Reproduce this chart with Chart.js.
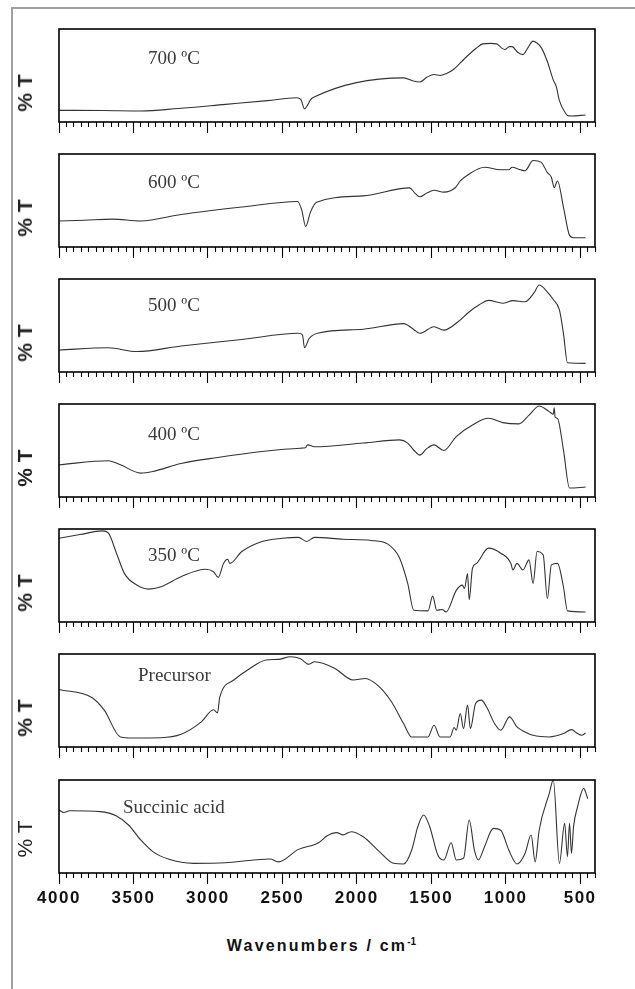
<!DOCTYPE html>
<html>
<head>
<meta charset="utf-8">
<script src="https://cdn.jsdelivr.net/npm/chart.js@4.4.1/dist/chart.umd.min.js"></script>
<style>
  html, body { margin: 0; padding: 0; background: #fff; }
  #page { position: relative; width: 635px; height: 989px; overflow: hidden; }
  #page canvas { position: absolute; left: 0; }
  .edge { position: absolute; background: #a0a0a0; }
  .ylab {
    position: absolute; left: 25px;
    font: bold 21px 'Liberation Sans', Arial, sans-serif; color: #222;
    transform: translate(-50%, -50%) rotate(-90deg); white-space: nowrap;
  }
  .tag {
    position: absolute; line-height: 19px;
    font: 19px 'Liberation Serif', 'Times New Roman', serif; color: #3a3a3a; white-space: nowrap;
  }
  #xtitle {
    position: absolute; left: 0; width: 635px; top: 936px; text-align: center;
    font: bold 16px 'Liberation Sans', Arial, sans-serif; color: #111; letter-spacing: 2.2px;
    padding-left: 8px; box-sizing: border-box;
  }
  #xtitle sup { font-size: 10px; letter-spacing: 0; }
</style>
</head>
<body>
<div id="page">
  <div class="edge" style="left:11px; top:7px; width:2px; height:982px;"></div>
  <div class="edge" style="left:11px; top:7px; width:624px; height:2px;"></div>
  <div id="xtitle">Wavenumbers / cm<sup>-1</sup></div>
</div>
<script>
// panel labels
const panelNames = ['700 ºC', '600 ºC', '500 ºC', '400 ºC', '350 ºC', 'Precursor', 'Succinic acid'];

// wavenumber axis (cm-1)
const xMin = 400;
const xMax = 4000;
const majorStep = 500;
const minorStep = 50;

// spectra: wavenumbers and %T (0 = panel bottom, 100 = panel top)
const wn700 = [4000, 3700, 3450, 3200, 2881, 2600, 2405, 2375, 2351, 2335, 2310, 2290, 1685, 1620, 1576, 1530, 1481, 1440, 1400, 1346, 1277, 1200, 1155, 1100, 1060, 1030, 1006, 975, 957, 920, 884, 850, 816, 790, 761, 720, 680, 660, 639, 600, 585, 560, 463];
const t700 = [12.5, 12.3, 11.8, 14.5, 19, 23, 26, 24, 14, 17, 24, 26.5, 47.5, 44, 43, 48, 51, 50, 52, 57, 68, 79, 84, 84.5, 84, 80, 78, 81, 81, 75, 72.5, 80, 87, 85, 80, 65, 45, 38, 23, 10, 7, 6.5, 7.5];

const wn600 = [4000, 3830, 3641, 3451, 3180, 2772, 2397, 2370, 2343, 2311, 2270, 1957, 1645, 1610, 1577, 1530, 1481, 1415, 1337, 1305, 1250, 1142, 1035, 980, 957, 900, 870, 816, 761, 720, 693, 674, 652, 612, 571, 544, 463];
const t600 = [27.9, 28.8, 30, 28, 35, 43, 49, 40, 22, 37.5, 48, 55, 63.6, 58, 54, 58, 61, 59, 64, 71, 78, 85.7, 83, 83, 85.7, 83, 82, 93, 91, 80, 75, 64, 71, 43, 12.5, 10, 10];

const wn500 = [4000, 3669, 3478, 3180, 2772, 2392, 2365, 2351, 2320, 2256, 1957, 1685, 1620, 1577, 1481, 1415, 1320, 1250, 1180, 1115, 1020, 952, 870, 810, 775, 720, 680, 639, 612, 585, 463];
const t500 = [23.7, 26, 22, 28, 35, 41.6, 40, 26, 36, 42, 46, 52, 46, 41.6, 48.7, 45, 54, 64, 72, 77, 74, 76.7, 75.6, 85, 93.5, 86, 78, 66.7, 41.6, 10, 9.3];

const wn400 = [4000, 3669, 3587, 3451, 3370, 3180, 2935, 2636, 2378, 2345, 2330, 2283, 1957, 1712, 1658, 1615, 1577, 1530, 1481, 1415, 1332, 1223, 1115, 1020, 911, 843, 775, 707, 680, 674, 668, 652, 612, 571, 463];
const t400 = [34.6, 39, 34.6, 25.7, 27.5, 36, 42.5, 49, 52.5, 53, 56, 54, 58, 61.4, 58, 50, 45, 52, 56, 50, 65, 77.5, 84.6, 80, 78.6, 88, 97.9, 91.8, 89, 96, 86, 84.6, 50.7, 9.6, 10.7];

const wn350 = [4000, 3859, 3709, 3669, 3614, 3560, 3478, 3397, 3315, 3180, 3017, 2962, 2930, 2895, 2867, 2853, 2772, 2636, 2500, 2392, 2337, 2283, 2093, 1902, 1794, 1712, 1658, 1617, 1522, 1490, 1463, 1427, 1400, 1332, 1291, 1277, 1256, 1245, 1223, 1196, 1115, 1033, 965, 952, 924, 884, 843, 816, 789, 748, 720, 693, 652, 612, 585, 463];
const t350 = [90, 94, 98, 95.7, 74, 52, 39.7, 35.4, 38, 48.7, 56.7, 54, 48, 63, 67.5, 63, 75.8, 86.6, 90, 91, 86.6, 91, 89, 87.7, 84, 68.6, 41.5, 12.6, 12, 27.8, 12.6, 13.4, 10.8, 34, 39.7, 36, 52, 24, 57.8, 63, 79.4, 74, 63, 56, 63, 56, 66.8, 41.5, 75.8, 72, 25.3, 61.4, 63, 37.9, 12, 10.8];

const wnPre = [4000, 3777, 3696, 3587, 3505, 3315, 3180, 3044, 2962, 2935, 2921, 2826, 2718, 2609, 2527, 2446, 2378, 2324, 2283, 2147, 2025, 1943, 1848, 1767, 1685, 1631, 1522, 1481, 1441, 1373, 1346, 1332, 1305, 1283, 1256, 1237, 1202, 1164, 1128, 1074, 1033, 974, 924, 870, 816, 707, 612, 558, 517, 490, 463];
const tPre = [61.9, 53, 39.6, 10.8, 9.7, 10, 13.7, 27, 40, 36.7, 53, 72, 84.5, 93.5, 94.2, 97, 95, 89, 91.7, 84.5, 72, 73.7, 64.7, 48.6, 25, 10.8, 10.8, 23.4, 10.8, 10.8, 21, 18, 36, 19.8, 45, 19.8, 46.8, 50.4, 43, 25, 18, 32.4, 21.6, 16.2, 12.6, 10.8, 14.4, 18.7, 14.4, 12.6, 15];

const wnSuc = [4000, 3967, 3927, 3723, 3614, 3533, 3451, 3370, 3261, 3098, 2881, 2690, 2582, 2527, 2392, 2256, 2201, 2134, 2093, 2038, 1957, 1848, 1753, 1685, 1631, 1590, 1551, 1510, 1456, 1415, 1366, 1332, 1283, 1245, 1210, 1183, 1142, 1083, 1033, 979, 924, 870, 829, 802, 775, 707, 680, 639, 604, 585, 571, 558, 544, 517, 476, 449];
const tSuc = [67.7, 65, 67, 66, 61.3, 51.6, 35.5, 23, 14.7, 10.4, 11, 14, 15, 12, 25.4, 32.6, 39.8, 43.4, 41, 44.4, 39, 23, 10.4, 9.7, 24.7, 49.8, 62.4, 49.8, 19.4, 14, 32.6, 14, 15.8, 57, 24.7, 14, 28.3, 48, 46, 24.7, 9.7, 21, 40.9, 12, 46, 85.7, 100, 10.4, 53.4, 17.6, 53.4, 21, 49.8, 71.3, 91, 80];

const spectra = [[wn700, t700], [wn600, t600], [wn500, t500], [wn400, t400], [wn350, t350], [wnPre, tPre], [wnSuc, tSuc]];

// layout
const plotTops = [29, 154, 279, 404, 529, 654, 780];
const plotH = 93;
const padTop = 4;
const tagPos = [[148, 47], [148, 171], [148, 294], [148, 423], [148, 544], [138, 664], [123, 796]];

// black box round each plot
const framePlugin = {
    id: 'frame',
    afterDatasetsDraw(chart) {
        const { ctx, chartArea: a } = chart;
        ctx.save();
        ctx.strokeStyle = '#000';
        ctx.lineWidth = 1.6;
        ctx.strokeRect(a.left, a.top, a.right - a.left, a.bottom - a.top);
        ctx.restore();
    }
};

// spaced-out tick digits like the original
const spacingPlugin = {
    id: 'spacing',
    beforeDraw(chart) {
        chart.ctx.letterSpacing = '1.5px';
    }
};

const page = document.getElementById('page');

spectra.forEach(([wn, t], i) => {
    const last = i === spectra.length - 1;
    const h = padTop + plotH + (last ? 40 : 16);

    const canvas = document.createElement('canvas');
    canvas.width = 635;
    canvas.height = h;
    canvas.style.top = (plotTops[i] - padTop) + 'px';
    page.appendChild(canvas);

    new Chart(canvas, {
        type: 'line',
        data: {
            datasets: [{
                data: wn.map((w, k) => ({ x: w, y: t[k] })),
                borderColor: '#333',
                borderWidth: 1.1,
                pointRadius: 0,
                cubicInterpolationMode: 'monotone',
                fill: false
            }]
        },
        options: {
            responsive: false,
            animation: false,
            devicePixelRatio: 1,
            layout: { padding: { left: 59, right: 40, top: padTop, bottom: 0 } },
            plugins: { legend: { display: false }, tooltip: { enabled: false } },
            scales: {
                x: {
                    type: 'linear',
                    min: xMin,
                    max: xMax,
                    reverse: true,
                    afterFit: s => { s.height = h - padTop - plotH; },
                    border: { display: false },
                    grid: {
                        drawOnChartArea: false,
                        tickLength: 11,
                        tickColor: '#000',
                        tickWidth: 1.1,
                        tickBorderDash: c => (Math.round(c.tick.value) % majorStep === 0 ? [] : [5, 30])
                    },
                    ticks: {
                        display: last,
                        stepSize: minorStep,
                        autoSkip: false,
                        maxRotation: 0,
                        minRotation: 0,
                        padding: 4,
                        color: '#111',
                        font: { family: "'Liberation Sans', Arial, sans-serif", size: 17, weight: 'bold' },
                        callback: v => (Math.round(v) % majorStep === 0 ? String(Math.round(v)) : '')
                    }
                },
                y: { display: false, min: 0, max: 100 }
            }
        },
        plugins: last ? [framePlugin, spacingPlugin] : [framePlugin]
    });

    const lab = document.createElement('div');
    lab.className = 'ylab';
    lab.textContent = '% T';
    lab.style.top = (plotTops[i] + plotH / 2 + (last ? 12 : 17)) + 'px';
    if (last) lab.style.fontWeight = 'normal';
    page.appendChild(lab);

    const tag = document.createElement('div');
    tag.className = 'tag';
    tag.textContent = panelNames[i];
    tag.style.left = tagPos[i][0] + 'px';
    tag.style.top = tagPos[i][1] + 'px';
    page.appendChild(tag);
});
</script>
</body>
</html>
